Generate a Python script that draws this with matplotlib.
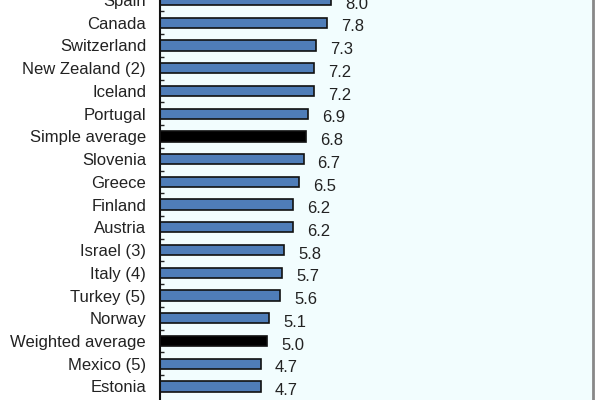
import matplotlib
matplotlib.use("Agg")
import matplotlib.pyplot as plt
import numpy as np

countries = ["Spain", "Canada", "Switzerland", "New Zealand (2)", "Iceland", "Portugal",
             "Simple average", "Slovenia", "Greece", "Finland", "Austria", "Israel (3)",
             "Italy (4)", "Turkey (5)", "Norway", "Weighted average", "Mexico (5)", "Estonia"]
values = [8.0, 7.8, 7.3, 7.2, 7.2, 6.9, 6.8, 6.7, 6.5, 6.2, 6.2, 5.8, 5.7, 5.6, 5.1, 5.0, 4.7, 4.7]

plt.rcParams['font.family'] = ['Liberation Sans', 'DejaVu Sans']

fig = plt.figure(figsize=(6, 4), dpi=100)
ax = fig.add_axes([160/600, 0, 433/600, 1])
ax.set_facecolor('#f2fdfe')

pos = np.arange(len(countries))
colors = ['black' if 'average' in c else '#4f7db8' for c in countries]
ax.barh(pos, values, height=0.45, color=colors, edgecolor='#111111', linewidth=1.2)

for p, v in zip(pos, values):
    ax.annotate(f"{v:.1f}", (v, p), xytext=(10, -3), textcoords='offset points',
                ha='left', va='center', fontsize=12, color='#222222')

ax.set_xlim(0, 20.2)
ax.set_ylim(17.594, 0.127)
ax.set_yticks(pos)
ax.set_yticklabels(countries, fontsize=12, color='#222222')
ax.set_yticks(pos[:-1] + 0.5, minor=True)
ax.tick_params(axis='y', which='major', length=0, pad=10)
ax.tick_params(axis='y', which='minor', direction='in', length=3, width=1, color='#222222')
ax.set_xticks([])

ax.spines['top'].set_visible(False)
ax.spines['bottom'].set_visible(False)
ax.spines['left'].set_linewidth(1.5)
ax.spines['left'].set_color('#111111')
ax.spines['right'].set_linewidth(2)
ax.spines['right'].set_color('#888888')

fig.savefig("out.png", dpi=100)
